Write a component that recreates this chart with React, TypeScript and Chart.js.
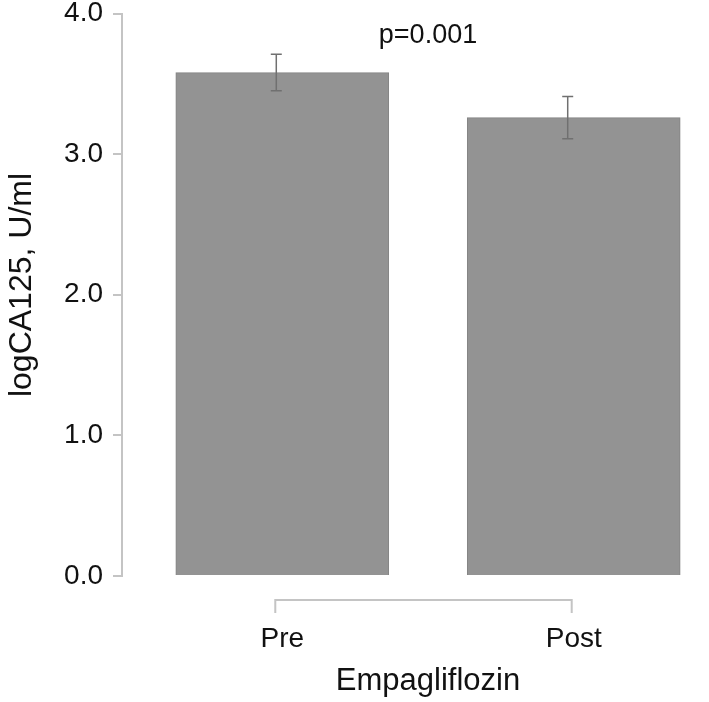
import React, { useEffect, useRef } from "react";
import { Chart, registerables } from "chart.js";

Chart.register(...registerables);

const categories = ["Pre", "Post"];
const means = [3.58, 3.26];
const errLow = [3.45, 3.11];
const errHigh = [3.71, 3.41];
const yTicks = [0, 1, 2, 3, 4];
const pLabel = "p=0.001";
const yTitle = "logCA125, U/ml";
const xTitle = "Empagliflozin";

const FONT = "'Liberation Sans', Arial, Helvetica, sans-serif";

const overlayPlugin = {
  id: "overlay",
  afterDatasetsDraw(chart: any) {
    const ctx = chart.ctx;
    const xs = chart.scales.x;
    const ys = chart.scales.y;
    const area = chart.chartArea;
    ctx.save();
    // error bars
    ctx.strokeStyle = "#707070";
    ctx.lineWidth = 1.5;
    categories.forEach((_, i) => {
      const x = xs.getPixelForValue(i + 1) - 6;
      const yl = ys.getPixelForValue(errLow[i]);
      const yh = ys.getPixelForValue(errHigh[i]);
      ctx.beginPath();
      ctx.moveTo(x, yl);
      ctx.lineTo(x, yh);
      ctx.moveTo(x - 5.5, yl);
      ctx.lineTo(x + 5.5, yl);
      ctx.moveTo(x - 5.5, yh);
      ctx.lineTo(x + 5.5, yh);
      ctx.stroke();
    });
    // x axis bracket
    const x1 = xs.getPixelForValue(1) - 7;
    const x2 = xs.getPixelForValue(categories.length) - 2;
    const yb = area.bottom + 24;
    ctx.strokeStyle = "#c4c4c4";
    ctx.lineWidth = 2;
    ctx.beginPath();
    ctx.moveTo(x1, yb + 13);
    ctx.lineTo(x1, yb);
    ctx.lineTo(x2, yb);
    ctx.lineTo(x2, yb + 13);
    ctx.stroke();
    // p-value text
    ctx.fillStyle = "#111";
    ctx.font = `27px ${FONT}`;
    ctx.textAlign = "center";
    ctx.textBaseline = "middle";
    ctx.fillText(pLabel, (area.left + area.right) / 2, 36);
    // y title
    ctx.save();
    ctx.translate(22, 285);
    ctx.rotate(-Math.PI / 2);
    ctx.font = `32px ${FONT}`;
    ctx.fillText(yTitle, 0, 0);
    ctx.restore();
    ctx.restore();
  },
};

export default function App() {
  const ref = useRef<HTMLCanvasElement | null>(null);
  useEffect(() => {
    if (!ref.current) return;
    const chart = new Chart(ref.current, {
      type: "bar",
      data: {
        datasets: [
          {
            data: means.map((v, i) => ({ x: i + 1, y: v })),
            backgroundColor: "#939393",
            borderColor: "#848484",
            borderWidth: 1,
            barThickness: 213,
          },
        ],
      },
      options: {
        animation: false,
        responsive: false,
        devicePixelRatio: 1,
        layout: { padding: { top: 13.5, left: 0, right: 0, bottom: 0 } },
        plugins: { legend: { display: false }, tooltip: { enabled: false } },
        scales: {
          x: {
            type: "linear",
            offset: false,
            min: 0.45,
            max: 2.55,
            border: { display: false },
            grid: { display: false, drawTicks: false, offset: false },
            afterBuildTicks: (s: any) => {
              s.ticks = categories.map((_, i) => ({ value: i + 1 }));
            },
            afterFit: (s: any) => {
              s.height = 126;
              s.paddingLeft = 0;
              s.paddingRight = 0;
            },
            ticks: {
              padding: 46,
              color: "#111",
              font: { family: FONT, size: 28 },
              callback: (v: any) => categories[Math.round(v) - 1] ?? "",
            },
            title: {
              display: true,
              text: xTitle,
              color: "#111",
              font: { family: FONT, size: 31 },
              padding: { top: 0, bottom: 2 },
            },
          },
          y: {
            min: 0,
            max: 4,
            afterBuildTicks: (s: any) => {
              s.ticks = yTicks.map((v) => ({ value: v }));
            },
            afterFit: (s: any) => {
              s.width = 122;
              s.paddingTop = 0;
              s.paddingBottom = 0;
            },
            border: { display: true, color: "#c4c4c4", width: 2 },
            grid: {
              drawOnChartArea: false,
              drawTicks: true,
              tickLength: 9,
              color: "#c4c4c4",
              lineWidth: 2,
            },
            ticks: {
              padding: 10,
              color: "#111",
              font: { family: FONT, size: 28, lineHeight: 1 },
              callback: (v: any) => Number(v).toFixed(1),
            },
          },
        },
      },
      plugins: [overlayPlugin],
    });
    return () => chart.destroy();
  }, []);
  return (
    <div
      style={{
        position: "fixed",
        left: 0,
        top: 0,
        width: 709,
        height: 702,
        overflow: "hidden",
        background: "#fff",
      }}
    >
      <canvas ref={ref} width={734} height={702} style={{ display: "block" }} />
    </div>
  );
}
